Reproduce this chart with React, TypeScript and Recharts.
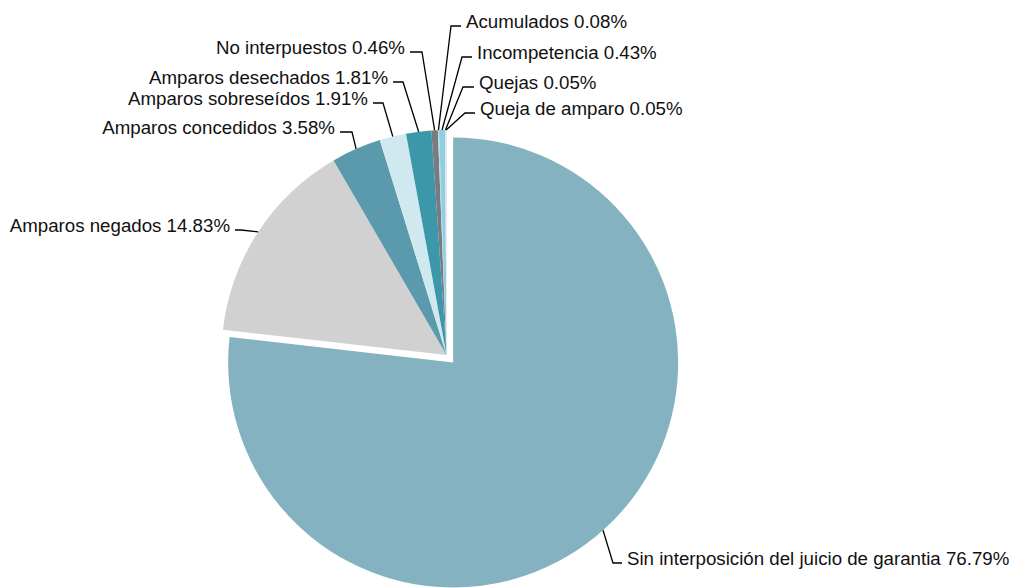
import React from 'react';
import { PieChart, Pie, Cell } from 'recharts';

const categories = [
  'Sin interposición del juicio de garantia',
  'Amparos negados',
  'Amparos concedidos',
  'Amparos sobreseídos',
  'Amparos desechados',
  'No interpuestos',
  'Acumulados',
  'Incompetencia',
  'Quejas',
  'Queja de amparo',
];
const values = [76.79, 14.83, 3.58, 1.91, 1.81, 0.46, 0.08, 0.43, 0.05, 0.05];
const colors = ['#85b2c0', '#d0d1d0', '#5b9aad', '#d0e8ef', '#3d97ab', '#787b80', '#b5dce6', '#8dcfdf', '#e6e6f2', '#d4c8e8'];

// leader line layout: y of horizontal segment, x where it bends, x where it ends
const labelLayout = [
  { lineY: 563, elbowX: 613, endX: 622 },
  { lineY: 230, elbowX: 241, endX: 235 },
  { lineY: 132, elbowX: 352, endX: 340 },
  { lineY: 103, elbowX: 383, endX: 373 },
  { lineY: 82, elbowX: 403, endX: 393 },
  { lineY: 52, elbowX: 422, endX: 410 },
  { lineY: 26, elbowX: 451, endX: 461 },
  { lineY: 57, elbowX: 462, endX: 472 },
  { lineY: 87, elbowX: 463, endX: 474 },
  { lineY: 113, elbowX: 465, endX: 475 },
];

const W = 1012;
const H = 588;
const CX = 446.5;
const CY = 355;
const R = 225;
const EXPLODE = 10;

const data = categories.map((name, i) => ({ name, value: values[i] }));
const total = values.reduce((a, b) => a + b, 0);
const mainSweep = (360 * values[0]) / total;
const mainMid = 90 - mainSweep / 2;
const RAD = Math.PI / 180;
const mainCx = CX + EXPLODE * Math.cos(mainMid * RAD);
const mainCy = CY - EXPLODE * Math.sin(mainMid * RAD);

const renderLabel = (props: any) => {
  const { cx, cy, midAngle, outerRadius } = props;
  const name = props?.payload?.name ?? props.name;
  const i = categories.indexOf(name);
  if (i < 0) return null;
  const lay = labelLayout[i];
  const ax = cx + outerRadius * Math.cos(-midAngle * RAD);
  const ay = cy + outerRadius * Math.sin(-midAngle * RAD);
  const right = lay.endX > lay.elbowX;
  const tx = right ? lay.endX + 5 : lay.endX - 5;
  return (
    <g key={`lbl-${i}`}>
      <polyline
        points={`${ax},${ay} ${lay.elbowX},${lay.lineY} ${lay.endX},${lay.lineY}`}
        fill="none"
        stroke="#000"
        strokeWidth={1.3}
      />
      <text
        x={tx}
        y={lay.lineY + 2}
        textAnchor={right ? 'start' : 'end'}
        fontSize={18.7}
        fontFamily="'Liberation Sans', Arial, sans-serif"
        fill="#111"
      >
        {`${name} ${values[i].toFixed(2)}%`}
      </text>
    </g>
  );
};

export default function App() {
  return (
    <div style={{ width: W, height: H, background: '#fff' }}>
      <style>{`body{margin:0;background:#fff;}`}</style>
      <PieChart width={W} height={H} margin={{ top: 0, right: 0, bottom: 0, left: 0 }}>
        <Pie
          data={data.slice(0, 1)}
          dataKey="value"
          nameKey="name"
          cx={mainCx}
          cy={mainCy}
          outerRadius={R}
          startAngle={90}
          endAngle={90 - mainSweep}
          stroke="none"
          label={renderLabel}
          labelLine={false}
          isAnimationActive={false}
        >
          {data.slice(0, 1).map((d, i) => (
            <Cell key={d.name} fill={colors[i]} />
          ))}
        </Pie>
        <Pie
          data={data.slice(1)}
          dataKey="value"
          nameKey="name"
          cx={CX}
          cy={CY}
          outerRadius={R}
          startAngle={90 - mainSweep}
          endAngle={-270}
          stroke="none"
          label={renderLabel}
          labelLine={false}
          isAnimationActive={false}
        >
          {data.slice(1).map((d, i) => (
            <Cell key={d.name} fill={colors[i + 1]} />
          ))}
        </Pie>
      </PieChart>
    </div>
  );
}
